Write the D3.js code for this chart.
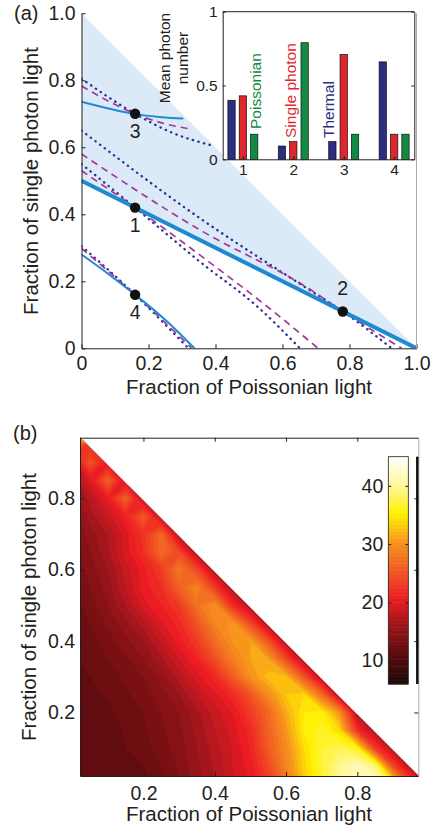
<!DOCTYPE html>
<html><head><meta charset="utf-8">
<script src="https://cdn.jsdelivr.net/npm/d3@7"></script>
<style>
body{margin:0;background:#fff;}
svg text{font-family:"Liberation Sans", Arial, Helvetica, sans-serif; fill:#231f20;}
</style></head><body>
<svg id="c" width="435" height="827"></svg>
<script>
// ---------------- data ----------------
const topTicks = [0, 0.2, 0.4, 0.6, 0.8, 1.0];
const topTickLabels = ["0", "0.2", "0.4", "0.6", "0.8", "1.0"];
const botTicks = [0.2, 0.4, 0.6, 0.8];
const botTickLabels = ["0.2", "0.4", "0.6", "0.8"];
const cbTicks = [10, 20, 30, 40];
const insetYTicks = [0, 0.5, 1];
const insetYTickLabels = ["0", "0.5", "1"];

// inset bar chart
const barCategories = [1, 2, 3, 4];
const thermal      = [0.40, 0.09, 0.12, 0.66];
const singlePhoton = [0.43, 0.12, 0.71, 0.17];
const poissonian   = [0.17, 0.79, 0.17, 0.17];

// marked points (Poissonian fraction, single-photon fraction)
const pointLabels = ["1", "2", "3", "4"];
const pointP = [0.16, 0.78, 0.16, 0.16];
const pointS = [0.42, 0.11, 0.70, 0.16];

// curves [Poissonian fraction, single-photon fraction]
const thickLine = [[0, 0.5], [1, 0]];
const shadeEdge = [[0, 1], [1, 0]];
const solid3 = [[0, 0.736], [0.08, 0.716], [0.16, 0.699], [0.24, 0.69], [0.304, 0.686]];
const solid4 = [[0, 0.28], [0.08, 0.222], [0.16, 0.16], [0.25, 0.085], [0.337, 0]];
const dashed1 = [[0, 0.53], [0.16, 0.42], [0.354, 0.278], [0.6, 0.088], [0.706, 0]];
const dotted1 = [[0, 0.55], [0.16, 0.42], [0.354, 0.258], [0.53, 0.12], [0.652, 0]];
const dashed2 = [[0, 0.58], [0.354, 0.353], [0.682, 0.176], [0.78, 0.11], [0.956, 0]];
const dotted2 = [[0, 0.65], [0.354, 0.388], [0.662, 0.186], [0.78, 0.11], [0.926, 0]];
const dashed3 = [[0, 0.783], [0.16, 0.70], [0.25, 0.67], [0.329, 0.654]];
const dotted3 = [[0, 0.805], [0.16, 0.70], [0.274, 0.642], [0.384, 0.607]];
const dashed4 = [[0, 0.298], [0.16, 0.16], [0.329, 0]];
const dotted4 = [[0, 0.305], [0.16, 0.16], [0.319, 0]];

// heat map: rows = single-photon fraction 0..1 (step 0.05), values along Poissonian fraction 0..(1-s)
const heatStep = 0.05;
const heatRows = [
  [11, 11, 11, 11.2, 11.5, 12.5, 14, 15.5, 17, 18.5, 20, 23, 27.5, 33, 36.5, 39.5, 42, 43, 36, 25, 18],
  [11, 11, 11.2, 11.5, 12, 13, 14.2, 15.7, 17.2, 19, 20.5, 24, 29, 33.5, 37, 40, 41.5, 39, 24, 17],
  [11, 11.2, 11.5, 12, 12.5, 13.5, 14.5, 16, 17.5, 19, 21, 25.5, 29.5, 34, 37, 38, 36, 23, 17],
  [11.1, 11.3, 11.6, 12.1, 12.8, 13.8, 14.8, 16.3, 18, 19.5, 21.5, 26, 30.5, 35, 36.5, 34, 22, 17],
  [11.3, 11.5, 11.8, 12.4, 13, 14, 15, 16.7, 18.5, 20, 23, 26.5, 31.5, 35, 35.5, 30, 17],
  [11.5, 11.8, 12.1, 12.8, 13.5, 14.5, 16, 18, 19.8, 21.5, 25, 29.5, 33, 34, 27, 17],
  [11.6, 12, 12.5, 13.2, 14, 15.5, 17.5, 19.5, 21.5, 25.5, 30, 32.5, 32.5, 25, 17],
  [11.8, 12.3, 13, 13.8, 15, 16.8, 19, 21, 24.5, 28.5, 31, 31, 24, 17],
  [12, 12.6, 13.5, 14.7, 16, 18.3, 20.5, 23, 27, 30, 31, 25, 17],
  [12.2, 13, 14.2, 15.7, 17.5, 19.8, 21.5, 25, 29, 30.5, 24, 17],
  [12.5, 13.5, 15, 17, 19.5, 21, 23, 27.5, 30, 22, 17],
  [12.7, 14, 15.5, 18, 20.5, 22, 26, 29, 23, 17],
  [13, 14.5, 16, 18.5, 20.5, 23, 28, 24, 17],
  [13.2, 15, 16.8, 19.5, 22, 27, 24, 17],
  [13.5, 15.5, 17, 19.5, 22.5, 26.5, 17],
  [14, 16.5, 18.5, 21, 25.5, 18],
  [15, 17.5, 20.5, 26, 18],
  [16, 19.5, 26, 19],
  [18, 25, 20],
  [27, 22],
  [45]
];
const colorMin = 6, colorMax = 45;

// ---------------- drawing ----------------
const svg = d3.select("#c");
const ink = "#231f20";
const FONT = '"Liberation Sans", Arial, Helvetica, sans-serif';

function styleAxis(g, fs) {
  g.attr("font-family", FONT).attr("font-size", fs);
  g.selectAll("text").attr("fill", ink);
  g.selectAll("line").attr("stroke", ink);
  g.select(".domain").attr("stroke", ink);
}

// ===== panel (a) =====
const xT = d3.scaleLinear([0, 1], [81.5, 416.5]);
const yT = d3.scaleLinear([0, 1], [348.3, 13.3]);

svg.append("clipPath").attr("id", "clipA").append("rect")
  .attr("x", xT(0)).attr("y", yT(1)).attr("width", xT(1) - xT(0)).attr("height", yT(0) - yT(1));
const gA = svg.append("g").attr("clip-path", "url(#clipA)");

const line = d3.line().x(d => xT(d[0])).y(d => yT(d[1]));
const curvy = d3.line().x(d => xT(d[0])).y(d => yT(d[1])).curve(d3.curveMonotoneX);

gA.append("path").attr("d", line(shadeEdge.concat(thickLine.slice().reverse())) + "Z")
  .attr("fill", "#dceaf7");

const dotColor = "#2e3192", dashColor = "#a3379c", blue = "#1f8ad2";
[dotted1, dotted2, dotted3, dotted4].forEach(c => gA.append("path").attr("d", curvy(c))
  .attr("fill", "none").attr("stroke", dotColor).attr("stroke-width", 2.3)
  .attr("stroke-dasharray", "0.4,5.4").attr("stroke-linecap", "round"));
[dashed1, dashed2, dashed3, dashed4].forEach(c => gA.append("path").attr("d", curvy(c))
  .attr("fill", "none").attr("stroke", dashColor).attr("stroke-width", 1.7)
  .attr("stroke-dasharray", "7,5"));
[solid3, solid4].forEach(c => gA.append("path").attr("d", curvy(c))
  .attr("fill", "none").attr("stroke", blue).attr("stroke-width", 2));
gA.append("path").attr("d", line(thickLine)).attr("fill", "none")
  .attr("stroke", blue).attr("stroke-width", 4);

pointLabels.forEach((lab, i) => {
  svg.append("circle").attr("cx", xT(pointP[i])).attr("cy", yT(pointS[i])).attr("r", 5.2).attr("fill", "#111");
  const above = lab === "2";
  svg.append("text").attr("x", xT(pointP[i])).attr("y", yT(pointS[i]) + (above ? -16 : 24))
    .attr("text-anchor", "middle").attr("font-size", 19.5).text(lab);
});

// axes (a)
const axAx = svg.append("g").attr("transform", `translate(0,${yT(0)})`)
  .call(d3.axisBottom(xT).tickValues(topTicks).tickFormat((d, i) => topTickLabels[i])
    .tickSizeInner(-4).tickSizeOuter(0).tickPadding(8));
styleAxis(axAx, 19.5);
const axAy = svg.append("g").attr("transform", `translate(${xT(0)},0)`)
  .call(d3.axisLeft(yT).tickValues(topTicks).tickFormat((d, i) => topTickLabels[i])
    .tickSizeInner(-4).tickSizeOuter(0).tickPadding(6));
styleAxis(axAy, 19.5);
svg.append("line").attr("x1", xT(1)).attr("x2", xT(1)).attr("y1", yT(1)).attr("y2", yT(0))
  .attr("stroke", "#a8a8a8").attr("stroke-width", 1);

svg.append("text").attr("x", 249).attr("y", 394).attr("text-anchor", "middle")
  .attr("font-size", 20.5).text("Fraction of Poissonian light");
svg.append("text").attr("transform", "translate(37.5,181) rotate(-90)").attr("text-anchor", "middle")
  .attr("font-size", 20.5).text("Fraction of single photon light");
svg.append("text").attr("x", 14).attr("y", 20).attr("font-size", 20).text("(a)");

// ===== inset =====
const xI = d3.scaleLinear([0.6, 4.4], [222.7, 414.3]);
const yI = d3.scaleLinear([0, 1], [159.3, 11.7]);
svg.append("rect").attr("x", xI(0.6)).attr("y", yI(1)).attr("width", xI(4.4) - xI(0.6))
  .attr("height", yI(0) - yI(1)).attr("fill", "#fff");
const barW = 0.145, off = 0.225;
const seriesList = [[thermal, -off, "#2b2e83"], [singlePhoton, 0, "#e0262b"], [poissonian, off, "#138a44"]];
seriesList.forEach(([vals, o, col]) => {
  svg.append("g").selectAll("rect").data(barCategories).join("rect")
    .attr("x", (c) => xI(c + o - barW / 2)).attr("width", xI(barW) - xI(0))
    .attr("y", (c, i) => yI(vals[i])).attr("height", (c, i) => yI(0) - yI(vals[i]))
    .attr("fill", col).attr("stroke", "#111").attr("stroke-width", 0.7);
});
const inAx = svg.append("g").attr("transform", `translate(0,${yI(0)})`)
  .call(d3.axisBottom(xI).tickValues(barCategories).tickFormat(d3.format("d"))
    .tickSizeInner(-3).tickSizeOuter(0).tickPadding(5));
styleAxis(inAx, 15.5);
const inAy = svg.append("g").attr("transform", `translate(${xI(0.6)},0)`)
  .call(d3.axisLeft(yI).tickValues(insetYTicks).tickFormat((d, i) => insetYTickLabels[i])
    .tickSizeInner(-3).tickSizeOuter(0).tickPadding(5));
styleAxis(inAy, 15.5);
const inAy2 = svg.append("g").attr("transform", `translate(${xI(4.4)},0)`)
  .call(d3.axisRight(yI).tickValues(insetYTicks).tickFormat("")
    .tickSizeInner(-3).tickSizeOuter(0));
styleAxis(inAy2, 15.5);
svg.append("line").attr("x1", xI(0.6)).attr("x2", xI(4.4)).attr("y1", yI(1)).attr("y2", yI(1))
  .attr("stroke", ink);

svg.append("text").attr("transform", "translate(169.5,58) rotate(-90)").attr("text-anchor", "middle")
  .attr("font-size", 15.5).text("Mean photon");
svg.append("text").attr("transform", "translate(188,58) rotate(-90)").attr("text-anchor", "middle")
  .attr("font-size", 15.5).text("number");
svg.append("text").attr("transform", "translate(260.5,129) rotate(-90)").attr("font-size", 15.5)
  .style("fill", "#138a44").text("Poissonian");
svg.append("text").attr("transform", "translate(296,138) rotate(-90)").attr("font-size", 15.5)
  .style("fill", "#e0262b").text("Single photon");
svg.append("text").attr("transform", "translate(334,138) rotate(-90)").attr("font-size", 15.5)
  .style("fill", "#2b2e83").text("Thermal");

// ===== panel (b) =====
const xB = d3.scaleLinear([0.022, 0.971], [80, 418.3]);
const yB = d3.scaleLinear([0.022, 0.970], [776, 437.7]);

const stops = [0, 0.14, 0.26, 0.375, 0.5, 0.625, 0.75, 0.875, 1];
const stopColors = ["#1a0a0a", "#600c0e", "#9c161b", "#ed1c24", "#f15a24", "#f7941d", "#fff200", "#fff799", "#ffffff"];
const heatColor = d3.scaleLinear().domain(stops.map(t => colorMin + t * (colorMax - colorMin)))
  .range(stopColors).interpolate(d3.interpolateRgb).clamp(true);

svg.append("clipPath").attr("id", "clipB").append("polygon")
  .attr("points", [[xB(0.022), yB(0.022)], [xB(0.022), yB(0.970)], [xB(0.971), yB(0.022)]].map(p => p.join(",")).join(" "));

// grid for the contour generator; cells beyond the diagonal (never shown) repeat the row's edge value
const nCols = heatRows[0].length;
const values = [];
heatRows.forEach(r => { for (let i = 0; i < nCols; i++) values.push(i < r.length ? r[i] : r[r.length - 1]); });
const thresholds = d3.range(colorMin, colorMax, 1);
const contours = d3.contours().size([nCols, heatRows.length]).thresholds(thresholds)(values);
const proj = d3.geoTransform({
  point(x, y) { this.stream.point(xB((x - 0.5) * heatStep), yB((y - 0.5) * heatStep)); }
});
const gpath = d3.geoPath(proj);
svg.append("g").attr("clip-path", "url(#clipB)").selectAll("path").data(contours).join("path")
  .attr("d", gpath).attr("fill", d => heatColor(d.value + 0.5)).attr("stroke", d => heatColor(d.value + 0.5))
  .attr("stroke-width", 0.5);

const bx = svg.append("g").attr("transform", `translate(0,${yB(0.022)})`)
  .call(d3.axisBottom(xB).tickValues(botTicks).tickFormat((d, i) => botTickLabels[i])
    .tickSizeInner(-4).tickSizeOuter(0).tickPadding(10));
styleAxis(bx, 19.5);
const bxt = svg.append("g").attr("transform", `translate(0,${yB(0.970)})`)
  .call(d3.axisTop(xB).tickValues(botTicks).tickFormat("").tickSizeInner(-4).tickSizeOuter(0));
styleAxis(bxt, 19.5);
const by = svg.append("g").attr("transform", `translate(${xB(0.022)},0)`)
  .call(d3.axisLeft(yB).tickValues(botTicks).tickFormat((d, i) => botTickLabels[i])
    .tickSizeInner(-4).tickSizeOuter(0).tickPadding(5));
styleAxis(by, 19.5);
const byr = svg.append("g").attr("transform", `translate(${xB(0.971)},0)`)
  .call(d3.axisRight(yB).tickValues(botTicks).tickFormat("").tickSizeInner(-4).tickSizeOuter(0));
styleAxis(byr, 19.5);
byr.select(".domain").attr("stroke", "#a8a8a8");

// colorbar
const yC = d3.scaleLinear([colorMin, colorMax], [684, 456.7]);
const cbX = 388.3, cbW = 20;
const cbSteps = d3.range(0, 64);
svg.append("g").selectAll("rect").data(cbSteps).join("rect")
  .attr("x", cbX).attr("width", cbW)
  .attr("y", i => yC(colorMin + (i + 1) * (colorMax - colorMin) / 64))
  .attr("height", yC(colorMin) - yC(colorMin + (colorMax - colorMin) / 64) + 0.5)
  .attr("fill", i => heatColor(colorMin + (i + 0.5) * (colorMax - colorMin) / 64));
svg.append("rect").attr("x", cbX).attr("y", yC(colorMax)).attr("width", cbW)
  .attr("height", yC(colorMin) - yC(colorMax)).attr("fill", "none").attr("stroke", ink).attr("stroke-width", 0.8);
const cbl = svg.append("g").attr("transform", `translate(${cbX},0)`)
  .call(d3.axisLeft(yC).tickValues(cbTicks).tickFormat(d3.format("d")).tickSizeInner(-3).tickSizeOuter(0).tickPadding(5));
styleAxis(cbl, 19.5);
cbl.select(".domain").remove();
const cbr = svg.append("g").attr("transform", `translate(${cbX + cbW},0)`)
  .call(d3.axisRight(yC).tickValues(cbTicks).tickFormat("").tickSizeInner(-3).tickSizeOuter(0));
styleAxis(cbr, 19.5);
cbr.select(".domain").remove();
svg.append("line").attr("x1", 417.3).attr("x2", 417.3).attr("y1", yC(colorMax)).attr("y2", yC(colorMin))
  .attr("stroke", "#111").attr("stroke-width", 2.5);

svg.append("text").attr("x", 249).attr("y", 821).attr("text-anchor", "middle")
  .attr("font-size", 20.5).text("Fraction of Poissonian light");
svg.append("text").attr("transform", "translate(36,607) rotate(-90)").attr("text-anchor", "middle")
  .attr("font-size", 20.5).text("Fraction of single photon light");
svg.append("text").attr("x", 13).attr("y", 440).attr("font-size", 20).text("(b)");
</script>
</body></html>
